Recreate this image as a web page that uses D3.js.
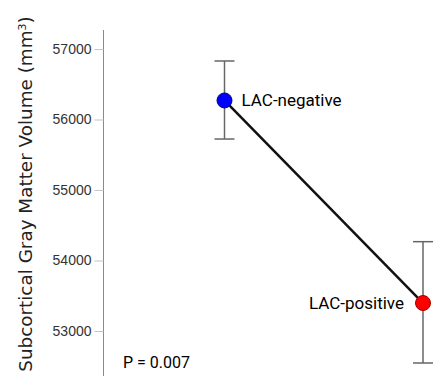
<!DOCTYPE html>
<html>
<head>
<meta charset="utf-8">
<script src="https://cdn.jsdelivr.net/npm/d3@7"></script>
<style>
  body { margin: 0; background: #fff; }
  svg { display: block; }
</style>
</head>
<body>
<div id="plot"></div>
<script>
"use strict";

// group means with error bar limits
const groups = ["LAC-negative", "LAC-positive"];
const means = [56270, 53397];
const upper = [56830, 54267];
const lower = [55723, 52546];
const dotColors = ["#0000ff", "#ff0000"];
const dotStrokes = ["#00008b", "#a00000"];
const yTicks = [53000, 54000, 55000, 56000, 57000];
const pLabel = "P = 0.007";

const msm = {
    width: 446,
    height: 376,
    axisX: 103.5,
}

let svg = d3.select("#plot")
    .append("svg")
    .attr("width", msm.width)
    .attr("height", msm.height);

let yScale = d3.scaleLinear()
    .domain([57000, 53000])
    .range([49, 331]);

let xScale = d3.scalePoint()
    .domain(groups)
    .range([224.5, 423]);

// y axis line runs from top of plot to bottom edge
svg.append("line")
    .attr("x1", msm.axisX).attr("x2", msm.axisX)
    .attr("y1", 30).attr("y2", msm.height)
    .attr("stroke", "#8a8a8a")
    .attr("stroke-width", 1);

let yAxis = d3.axisLeft(yScale)
    .tickValues(yTicks)
    .tickSize(9)
    .tickPadding(3)
    .tickFormat(d3.format("d"));

let axisG = svg.append("g")
    .attr("transform", "translate(" + msm.axisX + ",0)")
    .call(yAxis);
axisG.select(".domain").remove();
axisG.selectAll(".tick line")
    .attr("stroke", "#c4c4c4")
    .attr("stroke-width", 1);
axisG.selectAll(".tick text")
    .attr("fill", "#333")
    .style("font-family", "'Liberation Sans', Arial, sans-serif")
    .style("font-size", "14px");

// y axis title, sized so it spans about the same length as in the picture
let yTitle = svg.append("text")
    .attr("transform", "translate(32,194) rotate(-90)")
    .attr("text-anchor", "middle")
    .style("font-family", "'DejaVu Sans', sans-serif")
    .style("font-size", "16px")
    .attr("fill", "#222");
yTitle.append("tspan").text("Subcortical Gray Matter Volume (mm");
let sup = yTitle.append("tspan").attr("baseline-shift", "super").style("font-size", "10px").text("3");
yTitle.append("tspan").attr("baseline-shift", "0").text(")");
let len = yTitle.node().getComputedTextLength();
let fs = 16 * 356 / len;
yTitle.style("font-size", fs + "px");
sup.style("font-size", (fs * 0.6) + "px");

// error bars
let errG = svg.append("g");
groups.forEach((g, i) => {
    let x = xScale(g);
    errG.append("line")
        .attr("x1", x).attr("x2", x)
        .attr("y1", yScale(upper[i])).attr("y2", yScale(lower[i]))
        .attr("stroke", "#666").attr("stroke-width", 1.5);
    [upper[i], lower[i]].forEach(v => {
        errG.append("line")
            .attr("x1", x - 10).attr("x2", x + 10)
            .attr("y1", yScale(v)).attr("y2", yScale(v))
            .attr("stroke", "#666").attr("stroke-width", 1.5);
    });
});

// connecting line
let line = d3.line()
    .x((d, i) => xScale(groups[i]))
    .y(d => yScale(d));
svg.append("path")
    .datum(means)
    .attr("d", line)
    .attr("fill", "none")
    .attr("stroke", "#111")
    .attr("stroke-width", 2.5);

// group points
svg.append("g")
    .selectAll("circle")
    .data(means)
    .enter()
    .append("circle")
    .attr("cx", (d, i) => xScale(groups[i]))
    .attr("cy", d => yScale(d))
    .attr("r", 7.5)
    .attr("fill", (d, i) => dotColors[i])
    .attr("stroke", (d, i) => dotStrokes[i])
    .attr("stroke-width", 1);

// point labels
const labelFont = "Roboto, sans-serif";
svg.append("text")
    .attr("x", xScale(groups[0]) + 17)
    .attr("y", yScale(means[0]) + 6)
    .style("font-family", labelFont)
    .style("font-size", "17px")
    .attr("fill", "#000")
    .text(groups[0]);

svg.append("text")
    .attr("x", xScale(groups[1]) - 19)
    .attr("y", yScale(means[1]) + 6)
    .attr("text-anchor", "end")
    .style("font-family", labelFont)
    .style("font-size", "17px")
    .attr("fill", "#000")
    .text(groups[1]);

svg.append("text")
    .attr("x", 123)
    .attr("y", 368)
    .style("font-family", labelFont)
    .style("font-size", "16px")
    .attr("fill", "#000")
    .text(pLabel);
</script>
</body>
</html>
